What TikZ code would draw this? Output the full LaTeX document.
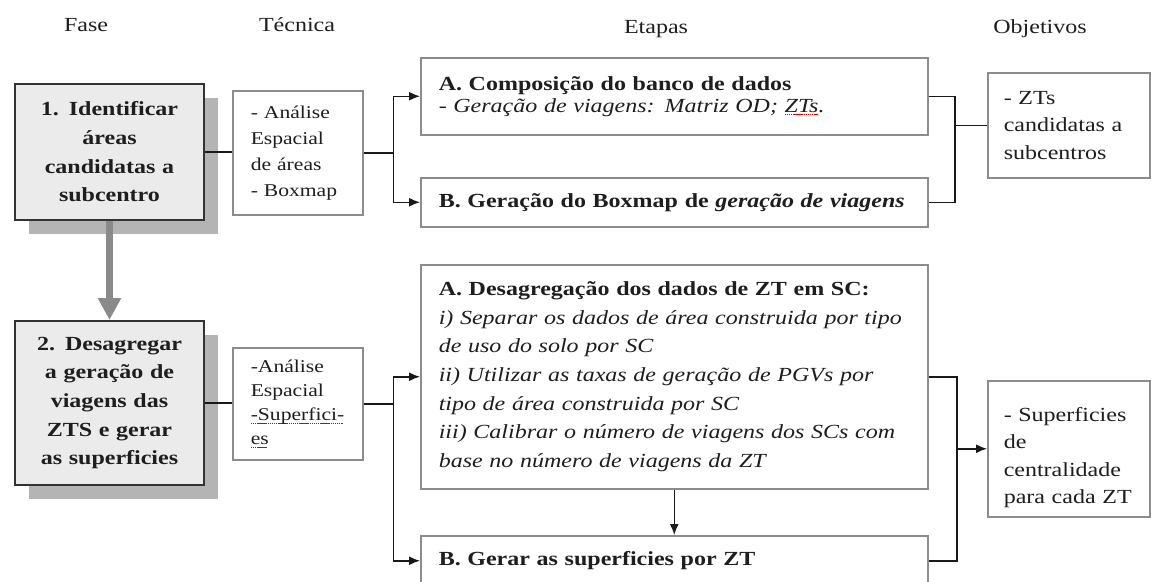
\documentclass[tikz,border=0pt]{standalone}
\usepackage{fontspec}
\setmainfont[FakeStretch=1.2]{Liberation Serif}
\usetikzlibrary{arrows.meta,shadows}
\definecolor{boxgray}{HTML}{8C8C8C}
\definecolor{phasefill}{HTML}{EBEBEB}
\definecolor{shadowgray}{HTML}{B4B4B4}
\definecolor{txt}{HTML}{1E1E1E}
\definecolor{arrowgray}{HTML}{8A8A8A}
\newsavebox{\spellbox}
\newcommand\spellmark[1]{\leavevmode\sbox{\spellbox}{#1}\rlap{\hbox to \wd\spellbox{\color{red!85!black}\leaders\hbox{\rule[-3pt]{1.5pt}{0.7pt}\hskip0.6pt}\hfill}}\usebox{\spellbox}}
\tikzset{
  phasebox/.style={draw=black!80, line width=2pt, fill=phasefill, align=center,
    inner xsep=8pt, inner ysep=0pt, anchor=north west,
    font=\bfseries\fontsize{20}{28.7}\selectfont,
    drop shadow={shadow xshift=14pt, shadow yshift=-14pt, fill=shadowgray, opacity=1}},
  plainbox/.style={draw=boxgray, line width=1.5pt, fill=white, align=left,
    inner ysep=0pt, anchor=north west},
  techbox/.style={plainbox, inner xsep=18pt, font=\fontsize{18}{26}\selectfont},
  stagebox/.style={plainbox, inner xsep=18pt},
  objbox/.style={plainbox, inner xsep=16pt, font=\fontsize{20}{27.5}\selectfont},
  header/.style={font=\fontsize{20}{24}\selectfont, inner sep=0pt},
  conn/.style={line width=1.5pt, draw=black!90},
  tip/.style={-{Latex[length=11pt,width=9pt]}}
}
\begin{document}
\begin{tikzpicture}[x=1pt,y=-1pt, text=txt]
\useasboundingbox[fill=white] (0,0) rectangle (1151,581);

% headers
\node[header] (hfase) at (86,25) {Fase};
\node[header] (htec) at (297,25) {Técnica};
\node[header] (heta) at (656,29) {Etapas};
\node[header] (hobj) at (1040,29) {Objetivos};

% phase boxes
\node[phasebox, text width=173pt, minimum height=136pt] (box1) at (14,83)
  {1. Identificar\\áreas\\candidatas a\\subcentro};
\node[phasebox, text width=173pt, minimum height=164pt] (box2) at (14,320)
  {2. Desagregar\\a geração de\\viagens das\\ZTS e gerar\\as superficies};

% technique boxes
\node[techbox, text width=94pt, minimum height=124pt] (tech1) at (232,90)
  {- Análise\\Espacial\\de áreas\\- Boxmap};
\node[techbox, text width=94pt, minimum height=112pt, font=\fontsize{18}{24}\selectfont] (tech2) at (232,347)
  {-Análise\\Espacial\\\spellmark{-Superfici-}\\\spellmark{es}};

% stage boxes
\node[stagebox, text width=471pt, minimum height=77pt, font=\fontsize{20}{22}\selectfont] (A) at (420,57)
  {\textbf{A. Composição do banco de dados}\\\textit{- Geração de viagens: Matriz OD; \spellmark{ZTs}.}};
\node[stagebox, text width=471pt, minimum height=49pt, font=\fontsize{20}{24}\selectfont] (B) at (420,177)
  {\textbf{B. Geração do Boxmap de \textit{geração de viagens}}};
\node[stagebox, text width=471pt, minimum height=224pt, font=\fontsize{20}{28.6}\selectfont] (A2) at (420,264)
  {\textbf{A. Desagregação dos dados de ZT em SC:}\\
   \textit{i) Separar os dados de área construida por tipo}\\
   \textit{de uso do solo por SC}\\
   \textit{ii) Utilizar as taxas de geração de PGVs por}\\
   \textit{tipo de área construida por SC}\\
   \textit{iii) Calibrar o número de viagens dos SCs com}\\
   \textit{base no número de viagens da ZT}};
\node[stagebox, text width=471pt, minimum height=50pt, font=\fontsize{20}{24}\selectfont] (B2) at (420,535)
  {\textbf{B. Gerar as superficies por ZT}};

% objective boxes
\node[objbox, text width=130pt, minimum height=105pt] (obj1) at (987,72)
  {- ZTs\\candidatas a\\subcentros};
\node[objbox, text width=130pt, minimum height=136pt] (obj2) at (987,380) {};
\node[objbox, draw=none, fill=none, anchor=west, text width=130pt] (obj2t) at ([yshift=-9pt]obj2.west)
  {- Superficies\\de\\centralidade\\para cada ZT};

% phase to phase
\draw[line width=7pt, arrowgray, -{Triangle[length=22pt,width=22pt]}] (box1.south) -- (box2.north);

% row 1 connectors
\draw[conn] (box1.east) -- (box1.east -| tech1.west);
\draw[conn, tip] (tech1.east) -- ++(30,0) |- (A.west);
\draw[conn, tip] (tech1.east) -- ++(30,0) |- (B.west);
\path (obj1.west) ++(-32,0) coordinate (j1);
\draw[conn] (A.east) -| (j1) -- (obj1.west);
\draw[conn] (B.east) -| (j1);

% row 2 connectors
\draw[conn] (box2.east) -- (box2.east -| tech2.west);
\draw[conn, tip] (tech2.east) -- ++(30,0) |- (A2.west);
\draw[conn, tip] (tech2.east) -- ++(30,0) |- (B2.west);
\draw[conn, tip] (A2.south) -- (B2.north);
\path (obj2.west) ++(-30,0) coordinate (j2);
\draw[conn] (A2.east) -| (j2);
\draw[conn] (B2.east) -| (j2);
\draw[conn, tip] (j2) -- (obj2.west);
\end{tikzpicture}
\end{document}
